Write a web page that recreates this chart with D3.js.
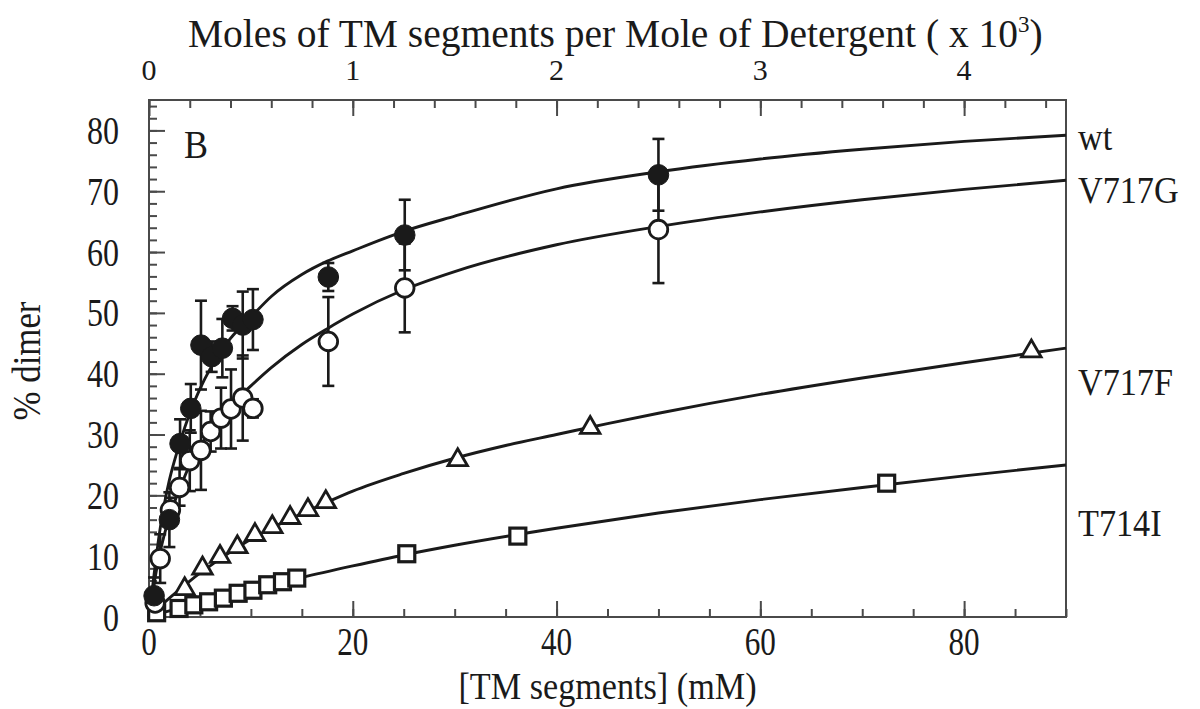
<!DOCTYPE html>
<html>
<head>
<meta charset="utf-8">
<script src="https://cdn.jsdelivr.net/npm/d3@7"></script>
<style>
  html, body { margin: 0; padding: 0; background: #fff; }
  svg { display: block; font-family: "Liberation Serif", "Times New Roman", serif; }
</style>
</head>
<body>
<svg id="chart" width="1200" height="709"></svg>
<script>
// ---------------- data ----------------
const bottomTicks = [0, 20, 40, 60, 80];
const topTicks = [0, 1, 2, 3, 4];
const yTicks = [0, 10, 20, 30, 40, 50, 60, 70, 80];

// wt (filled circles)
const wtX   = [0.5, 2.0, 3.05, 4.1, 5.1, 6.15, 7.2, 8.2, 9.2, 10.2, 17.6, 25.1, 50];
const wtY   = [3.5, 16.0, 28.5, 34.3, 44.7, 42.8, 44.2, 49.1, 48.0, 48.9, 55.9, 62.8, 72.7];
const wtErr = [3, 4.5, 4, 4, 7.3, 2.5, 4.8, 2, 5.5, 5, 2.3, 5.8, 5.9];

// V717G (open circles)
const gX   = [0.6, 1.1, 2.1, 3.0, 4.0, 5.1, 6.05, 7.07, 8.05, 9.2, 10.2, 17.6, 25.1, 50];
const gY   = [2.3, 9.6, 17.6, 21.3, 25.7, 27.4, 30.5, 32.7, 34.2, 36.0, 34.3, 45.3, 54.1, 63.7];
const gErr = [1, 4, 2, 3, 5, 6.5, 3.3, 5, 6.5, 7, 1.5, 7.3, 7.3, 8.8];

// V717F (open triangles)
const fX = [3.5, 5.25, 6.97, 8.67, 10.4, 12.1, 13.85, 15.6, 17.35, 30.3, 43.3, 86.6];
const fY = [4.6, 8.0, 9.9, 11.5, 13.5, 14.8, 16.3, 17.6, 18.9, 25.8, 31.1, 43.7];

// T714I (open squares)
const tX = [0.75, 2.95, 4.4, 5.85, 7.3, 8.75, 10.2, 11.65, 13.1, 14.5, 25.3, 36.2, 72.4];
const tY = [0.7, 1.4, 2.0, 2.5, 3.1, 3.9, 4.4, 5.3, 5.8, 6.4, 10.4, 13.3, 22.0];

// fitted curves
const wtCurveX = [0, 0.5, 1, 1.5, 2, 3, 4, 5, 6, 7, 8, 10, 12, 15, 17.5, 20, 25, 30, 40, 50, 60, 70, 80, 90];
const wtCurveY = [0, 7, 13.5, 18.5, 22.5, 28.5, 33.5, 37.5, 40.8, 43.5, 45.8, 49.3, 52.7, 56.3, 58.5, 60.2, 63.4, 65.9, 70.4, 73.2, 75.3, 76.9, 78.2, 79.2];
const gCurveX = [0, 0.5, 1, 1.5, 2, 3, 4, 5, 6, 7, 8, 10, 12, 15, 17.5, 20, 25, 30, 40, 50, 60, 70, 80, 90];
const gCurveY = [0, 5.5, 10, 13.5, 16.5, 21, 25, 28, 30.6, 32.8, 34.8, 38, 41, 44.8, 47.4, 49.8, 53.8, 56.8, 61.2, 64.2, 66.6, 68.6, 70.3, 71.8];
const fCurveX = [0, 1, 2, 3, 4, 5, 6, 7, 8, 10, 12, 15, 17.5, 20, 25, 30, 35, 40, 45, 50, 60, 70, 80, 90];
const fCurveY = [0, 1.6, 3.1, 4.5, 5.9, 7.2, 8.4, 9.6, 10.7, 12.8, 14.6, 17.0, 18.9, 20.7, 23.6, 26.1, 28.2, 30.0, 31.8, 33.5, 36.6, 39.3, 41.8, 44.2];
const tCurveX = [0, 2, 5, 10, 15, 20, 25, 30, 40, 50, 60, 70, 80, 90];
const tCurveY = [0, 1.0, 2.3, 4.4, 6.5, 8.4, 10.2, 11.8, 14.6, 17.1, 19.3, 21.3, 23.2, 25.0];

const seriesLabels = ["wt", "V717G", "V717F", "T714I"];

// ---------------- drawing ----------------
const svg = d3.select("#chart");
const L = 149, R = 1066, T = 100, B = 617;
const x = d3.scaleLinear().domain([0, 90]).range([L, R]);
const xTop = d3.scaleLinear().domain([0, 4.5]).range([L, R]);
const y = d3.scaleLinear().domain([0, 85]).range([B, T]);

const axisColor = "#4a4a4a";
const ink = "#1a1a1a";

// frame
svg.append("rect").attr("x", L).attr("y", T).attr("width", R - L).attr("height", B - T)
  .attr("fill", "none").attr("stroke", axisColor).attr("stroke-width", 2);

function styleAxis(g) {
  g.select(".domain").remove();
  g.selectAll(".tick line").attr("stroke", axisColor).attr("stroke-width", 2);
  g.selectAll(".tick text").remove();
}

// left axis ticks (inward)
svg.append("g").attr("transform", `translate(${L},0)`)
  .call(d3.axisLeft(y).tickValues(d3.range(0, 86, 2)).tickSize(-8).tickFormat(""))
  .call(styleAxis);
svg.append("g").attr("transform", `translate(${L},0)`)
  .call(d3.axisLeft(y).tickValues(yTicks).tickSize(-16).tickFormat(""))
  .call(styleAxis);
// bottom axis ticks (inward)
svg.append("g").attr("transform", `translate(0,${B})`)
  .call(d3.axisBottom(x).tickValues(d3.range(0, 91, 5)).tickSize(-8).tickFormat(""))
  .call(styleAxis);
svg.append("g").attr("transform", `translate(0,${B})`)
  .call(d3.axisBottom(x).tickValues(bottomTicks).tickSize(-16).tickFormat(""))
  .call(styleAxis);
// top axis ticks (inward)
svg.append("g").attr("transform", `translate(0,${T})`)
  .call(d3.axisTop(xTop).tickValues(d3.range(0, 4.51, 0.2)).tickSize(-8).tickFormat(""))
  .call(styleAxis);
svg.append("g").attr("transform", `translate(0,${T})`)
  .call(d3.axisTop(xTop).tickValues(topTicks).tickSize(-16).tickFormat(""))
  .call(styleAxis);

// condensed text helper
function ctext(px, py, str, size, sx, anchor) {
  return svg.append("text")
    .attr("transform", `translate(${px},${py}) scale(${sx},1)`)
    .attr("text-anchor", anchor)
    .attr("font-size", size)
    .attr("fill", ink)
    .text(str);
}

yTicks.forEach(v => ctext(119, y(v) + 13.5, String(v), 40, 0.8, "end"));
bottomTicks.forEach(v => ctext(x(v), 655, String(v), 39, 0.8, "middle"));
topTicks.forEach(v => ctext(xTop(v), 80, String(v), 30, 1, "middle"));

// axis titles
ctext((L + R) / 2, 699, "[TM segments] (mM)", 38, 0.9, "middle");
svg.append("text")
  .attr("transform", "translate(40,361) rotate(-90) scale(0.87,1)")
  .attr("text-anchor", "middle").attr("font-size", 40).attr("fill", ink)
  .text("% dimer");
const title = svg.append("text").attr("x", 188).attr("y", 47)
  .attr("font-size", 39.5).attr("fill", ink);
title.append("tspan").text("Moles of TM segments per Mole of Detergent ( x 10");
title.append("tspan").attr("font-size", 23).attr("dy", -15).text("3");
title.append("tspan").attr("dy", 15).text(")");

ctext(184, 158, "B", 40, 0.9, "start");

// series labels on the right
const labelY = [150, 203, 395, 536];
seriesLabels.forEach((s, i) => ctext(1078, labelY[i], s, 38, 0.9, "start"));

// curves
const line = d3.line().x(d => x(d[0])).y(d => y(d[1])).curve(d3.curveMonotoneX);
[[wtCurveX, wtCurveY], [gCurveX, gCurveY], [fCurveX, fCurveY], [tCurveX, tCurveY]].forEach(([cx, cy]) => {
  svg.append("path").datum(d3.zip(cx, cy)).attr("d", line)
    .attr("fill", "none").attr("stroke", ink).attr("stroke-width", 2.9);
});

// error bars
function errBars(xs, ys, es) {
  const g = svg.append("g").attr("stroke", ink).attr("stroke-width", 2.6);
  xs.forEach((xv, i) => {
    const cx = x(xv), y1 = y(ys[i] + es[i]), y2 = y(ys[i] - es[i]);
    g.append("line").attr("x1", cx).attr("x2", cx).attr("y1", y1).attr("y2", y2);
    g.append("line").attr("x1", cx - 6).attr("x2", cx + 6).attr("y1", y1).attr("y2", y1);
    g.append("line").attr("x1", cx - 6).attr("x2", cx + 6).attr("y1", y2).attr("y2", y2);
  });
}
errBars(gX, gY, gErr);
errBars(wtX, wtY, wtErr);

// markers
// squares
svg.append("g").selectAll("rect").data(d3.zip(tX, tY)).join("rect")
  .attr("x", d => x(d[0]) - 8).attr("y", d => y(d[1]) - 8)
  .attr("width", 16).attr("height", 16)
  .attr("fill", "#fff").attr("stroke", ink).attr("stroke-width", 3.2);
// triangles
const tri = d3.symbol().type(d3.symbolTriangle).size(165);
svg.append("g").selectAll("path").data(d3.zip(fX, fY)).join("path")
  .attr("d", tri)
  .attr("transform", d => `translate(${x(d[0])},${y(d[1])})`)
  .attr("fill", "#fff").attr("stroke", ink).attr("stroke-width", 2.8);
// open circles
svg.append("g").selectAll("circle").data(d3.zip(gX, gY)).join("circle")
  .attr("cx", d => x(d[0])).attr("cy", d => y(d[1])).attr("r", 9.3)
  .attr("fill", "#fff").attr("stroke", ink).attr("stroke-width", 2.8);
// filled circles
svg.append("g").selectAll("circle").data(d3.zip(wtX, wtY)).join("circle")
  .attr("cx", d => x(d[0])).attr("cy", d => y(d[1])).attr("r", 10.3)
  .attr("fill", ink).attr("stroke", ink).attr("stroke-width", 1);
</script>
</body>
</html>
